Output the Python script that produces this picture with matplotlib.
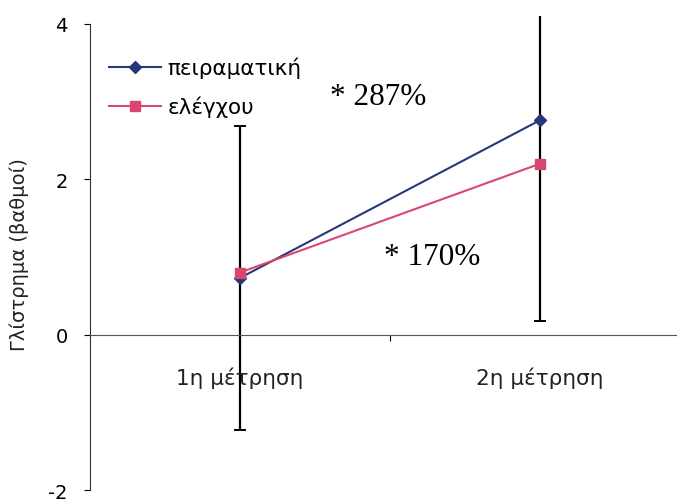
import numpy as np
import matplotlib.pyplot as plt

categories = ['1η μέτρηση', '2η μέτρηση']
peiramatiki = [0.73, 2.76]
elegxou = [0.80, 2.20]
err_peir = [1.96, 2.58]
annot_287 = '* 287%'
annot_170 = '* 170%'

fig = plt.figure(figsize=(6.77, 5.02), dpi=100)
ax = fig.add_axes([0.1329, 0.0219, 0.886, 0.9438])

x = np.arange(len(categories)) + 0.5

ax.errorbar(x, peiramatiki, yerr=err_peir, fmt='none', ecolor='black', elinewidth=1.6,
            capsize=4, capthick=1.4, zorder=2)
ax.plot(x, peiramatiki, color='#28367a', lw=1.5, marker='D', ms=6, label='πειραματική', zorder=3)
ax.plot(x, elegxou, color='#d8476f', lw=1.5, marker='s', ms=7, label='ελέγχου', zorder=3)

ax.set_xlim(0, 2)
ax.set_ylim(-2, 4.1)
ax.spines['left'].set_bounds(-2, 4)
ax.spines['top'].set_visible(False)
ax.spines['right'].set_visible(False)
ax.spines['bottom'].set_position(('data', 0))
ax.spines['bottom'].set_color('#555555')
ax.spines['left'].set_color('#333333')

ax.set_yticks([-2, 0, 2, 4])
ax.set_yticklabels(['-2', '0', '2', '4'], fontsize=14, family='DejaVu Sans')
ax.tick_params(axis='y', length=4, width=0.8, pad=12)
ax.set_xticks([1])
ax.set_xticklabels([''])
ax.tick_params(axis='x', length=4, direction='out')

for xi, lab in zip(x, categories):
    ax.text(xi, -0.55, lab, ha='center', va='center', fontsize=15.5, family='DejaVu Sans',
            color='#222222')

ax.set_ylabel('Γλίστρημα (βαθμοί)', fontsize=14, family='DejaVu Sans', labelpad=14,
              color='#222222')

ax.text(0.8, 3.07, annot_287, fontsize=22.5, family='Liberation Serif', va='center')
ax.text(0.98, 1.0, annot_170, fontsize=22.5, family='Liberation Serif', va='center')

leg = ax.legend(loc='upper left', bbox_to_anchor=(0.0, 0.955), frameon=False,
                prop={'family': 'DejaVu Sans', 'size': 15.5}, handlelength=2.4,
                labelspacing=0.8, handletextpad=0.3)

fig.savefig('out.png', dpi=100)
